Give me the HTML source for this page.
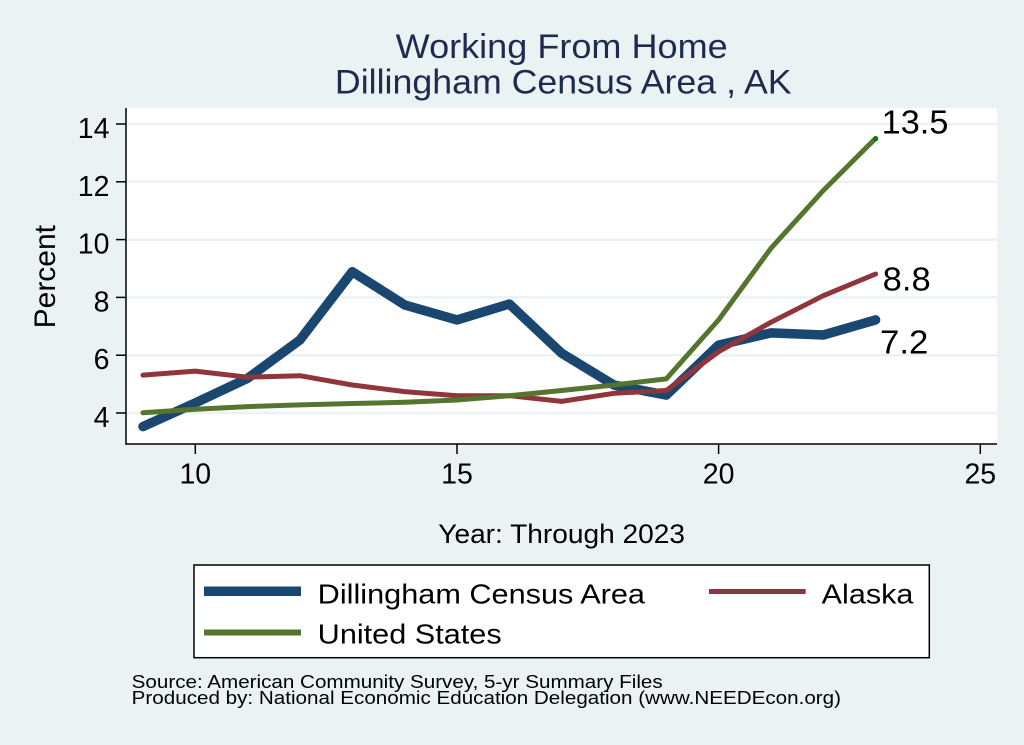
<!DOCTYPE html>
<html>
<head>
<meta charset="utf-8">
<style>
  html, body { margin: 0; padding: 0; background: #EAF2F3; }
  svg { display: block; font-family: "Liberation Sans", Arial, sans-serif; }
</style>
</head>
<body>
<svg width="1024" height="745" viewBox="0 0 1024 745" xmlns="http://www.w3.org/2000/svg">
  <rect x="0" y="0" width="1024" height="745" fill="#EAF2F3"/>

  <!-- Title -->
  <text x="561.7" y="58" font-size="34" fill="#1E2B4F" text-anchor="middle" textLength="332" lengthAdjust="spacingAndGlyphs">Working From Home</text>
  <text x="563.3" y="93.5" font-size="34" fill="#1E2B4F" text-anchor="middle" textLength="456.7" lengthAdjust="spacingAndGlyphs">Dillingham Census Area , AK</text>

  <!-- Plot region -->
  <rect x="126" y="108" width="871" height="336" fill="#FFFFFF"/>

  <!-- Gridlines -->
  <g stroke="#EAF2F3" stroke-width="2.5">
    <line x1="126" y1="124" x2="997" y2="124"/>
    <line x1="126" y1="181.8" x2="997" y2="181.8"/>
    <line x1="126" y1="239.6" x2="997" y2="239.6"/>
    <line x1="126" y1="297.4" x2="997" y2="297.4"/>
    <line x1="126" y1="355.2" x2="997" y2="355.2"/>
    <line x1="126" y1="413" x2="997" y2="413"/>
  </g>

  <!-- Axes -->
  <g stroke="#000" stroke-width="1.5" fill="none">
    <line x1="126" y1="108" x2="126" y2="444.5"/>
    <line x1="125.3" y1="444" x2="997" y2="444"/>
    <line x1="116" y1="124" x2="126" y2="124"/>
    <line x1="116" y1="181.8" x2="126" y2="181.8"/>
    <line x1="116" y1="239.6" x2="126" y2="239.6"/>
    <line x1="116" y1="297.4" x2="126" y2="297.4"/>
    <line x1="116" y1="355.2" x2="126" y2="355.2"/>
    <line x1="116" y1="413" x2="126" y2="413"/>
    <line x1="195.3" y1="444" x2="195.3" y2="454"/>
    <line x1="457" y1="444" x2="457" y2="454"/>
    <line x1="718.6" y1="444" x2="718.6" y2="454"/>
    <line x1="980.3" y1="444" x2="980.3" y2="454"/>
  </g>

  <!-- Y tick labels -->
  <g font-size="28.5" fill="#000" text-anchor="end">
    <text x="109.5" y="138">14</text>
    <text x="109.5" y="195.8">12</text>
    <text x="109.5" y="253.6">10</text>
    <text x="109.5" y="311.4">8</text>
    <text x="109.5" y="369.2">6</text>
    <text x="109.5" y="427">4</text>
  </g>

  <!-- X tick labels -->
  <g font-size="28.5" fill="#000" text-anchor="middle">
    <text x="195.3" y="483.5">10</text>
    <text x="457" y="483.5">15</text>
    <text x="718.6" y="483.5">20</text>
    <text x="980.3" y="483.5">25</text>
  </g>

  <!-- Axis titles -->
  <text transform="translate(55,276.7) rotate(-90)" font-size="30" fill="#000" text-anchor="middle" textLength="103.3" lengthAdjust="spacingAndGlyphs">Percent</text>
  <text x="438.3" y="543" font-size="26.5" fill="#000" textLength="246.7" lengthAdjust="spacingAndGlyphs">Year: Through 2023</text>

  <!-- Series -->
  <polyline fill="none" stroke="#1A476F" stroke-width="9.5" stroke-linejoin="round" stroke-linecap="round"
    points="143,426.6 195.3,402.9 247.6,378.3 300,339.9 352.3,271.7 404.6,304.9 457,319.9 509.3,304 561.6,353.2 613.9,385 666.3,395.1 718.6,345.1 770.9,332.9 823.3,335 875.6,319.9"/>
  <polyline fill="none" stroke="#90353B" stroke-width="5" stroke-linejoin="round" stroke-linecap="round"
    points="143,375.1 195.3,371.1 247.6,377.2 300,375.7 352.3,385 404.6,391.6 457,395.7 509.3,395.7 561.6,401.4 613.9,393.3 666.3,390.5 718.6,351.7 770.9,322.3 823.3,295.7 875.6,274"/>
  <polyline fill="none" stroke="#55752F" stroke-width="5" stroke-linejoin="round" stroke-linecap="round"
    points="143,412.7 195.3,409.2 247.6,406.6 300,404.9 352.3,403.5 404.6,402.3 457,400 509.3,395.7 561.6,390.5 613.9,385 666.3,378.9 718.6,319.9 770.9,248.3 823.3,190.5 875.6,138.4"/>
  <circle cx="875.6" cy="138.8" r="2.6" fill="#008000"/>

  <!-- Value labels -->
  <g font-size="33" fill="#000">
    <text x="881.7" y="133.5" textLength="66.7" lengthAdjust="spacingAndGlyphs">13.5</text>
    <text x="882.7" y="290.7" textLength="48" lengthAdjust="spacingAndGlyphs">8.8</text>
    <text x="880" y="353.5" textLength="48.3" lengthAdjust="spacingAndGlyphs">7.2</text>
  </g>

  <!-- Legend -->
  <rect x="194" y="565" width="735.3" height="92.7" fill="#FFFFFF" stroke="#000" stroke-width="1.5"/>
  <line x1="204" y1="591.3" x2="301" y2="591.3" stroke="#1A476F" stroke-width="9.5"/>
  <line x1="709" y1="591.5" x2="805.7" y2="591.5" stroke="#90353B" stroke-width="5"/>
  <line x1="204" y1="632.5" x2="301" y2="632.5" stroke="#55752F" stroke-width="6"/>
  <g font-size="27.5" fill="#000">
    <text x="317.7" y="603.5" textLength="327.3" lengthAdjust="spacingAndGlyphs">Dillingham Census Area</text>
    <text x="821.7" y="603.5" textLength="91.7" lengthAdjust="spacingAndGlyphs">Alaska</text>
    <text x="317.7" y="643.7" textLength="184" lengthAdjust="spacingAndGlyphs">United States</text>
  </g>

  <!-- Source notes -->
  <g font-size="18.5" fill="#000">
    <text x="131.7" y="688" textLength="531" lengthAdjust="spacingAndGlyphs">Source: American Community Survey, 5-yr Summary Files</text>
    <text x="131.7" y="703.8" textLength="709.3" lengthAdjust="spacingAndGlyphs">Produced by: National Economic Education Delegation (www.NEEDEcon.org)</text>
  </g>
</svg>
</body>
</html>
